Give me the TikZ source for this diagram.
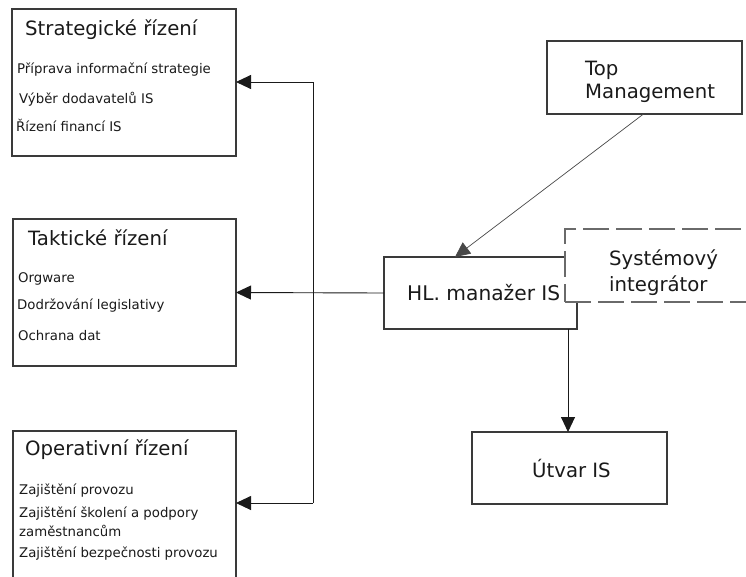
\documentclass[tikz,border=0pt]{standalone}
\usepackage{fontspec}
\setmainfont{DejaVu Sans}
\usetikzlibrary{arrows.meta,calc}

\definecolor{edge}{HTML}{3A3A3A}
\definecolor{ink}{HTML}{1A1A1A}
\definecolor{dashgray}{HTML}{6A6A6A}

\tikzset{
  box/.style={draw=edge, line width=1.1pt, fill=white, rectangle, inner sep=0pt, outer sep=0pt},
  dashbox/.style={box, draw=dashgray, line width=1.2pt, dash pattern=on 26pt off 7pt},
  head/.style={anchor=base west, inner sep=0pt, font=\fontsize{19.7}{22}\selectfont, text=ink},
  item/.style={anchor=base west, inner sep=0pt, font=\fontsize{13.3}{16}\selectfont, text=ink},
  link/.style={draw=ink, line width=0.9pt},
  arrowlink/.style={link, -{Triangle[length=15pt,width=14pt]}},
  thinarrow/.style={draw=ink!80, line width=0.7pt, -{Triangle[length=15pt,width=14pt]}},
}

\begin{document}
\begin{tikzpicture}[x=1pt, y=-1pt]
  \useasboundingbox (0,0) rectangle (746,576);
  \clip (0,0) rectangle (746,576);

  % management levels on the left
  \node[box, minimum width=224pt, minimum height=147pt] (strat) at (124,82.5) {};
  \node[box, minimum width=223pt, minimum height=147pt] (takt) at (124.5,292.5) {};
  \node[box, minimum width=223pt, minimum height=170pt] (oper) at (124.5,516) {};

  \node[head] (strath) at (25,35) {Strategické řízení};
  \node[item] (s1) at (17,73) {Příprava informační strategie};
  \node[item] (s2) at (19,103) {Výběr dodavatelů IS};
  \node[item] (s3) at (16,131) {Řízení financí IS};

  \node[head] (takth) at (28,245) {Taktické řízení};
  \node[item] (t1) at (18,282) {Orgware};
  \node[item] (t2) at (17,309) {Dodržování legislativy};
  \node[item] (t3) at (18,340) {Ochrana dat};

  \node[head] (operh) at (25,455) {Operativní řízení};
  \node[item] (o1) at (19,494) {Zajištění provozu};
  \node[item] (o2) at (19,517) {Zajištění školení a podpory};
  \node[item] (o3) at (19,536) {zaměstnancům};
  \node[item] (o4) at (19,557) {Zajištění bezpečnosti provozu};

  % top management
  \node[box, minimum width=195pt, minimum height=73pt] (top) at (644.5,77.5) {};
  \node[head] (toph1) at (585,75) {Top};
  \node[head] (toph2) at (585,98) {Management};

  % chief IS manager and the system integrator overlapping it
  \node[box, minimum width=193pt, minimum height=72pt] (hl) at (480.5,293) {};
  \node[head, font=\fontsize{20.2}{22}\selectfont] (hlh) at (407,300) {HL. manažer IS};
  \node[dashbox, minimum width=200pt, minimum height=73pt] (integ) at (665,265.5) {};
  \node[head] (integ1) at (609,265) {Systémový};
  \node[head] (integ2) at (609,291) {integrátor};

  % IS department
  \node[box, minimum width=195pt, minimum height=72pt] (utvar) at (569.5,468) {};
  \node[head] (utvarh) at (532,477) {Útvar IS};

  % connectors
  \coordinate (busTop) at (313,82);
  \coordinate (busBot) at (313,503);
  \draw[link] (busTop) -- (busBot);
  \draw[arrowlink] (busTop) -- (busTop -| strat.east);
  \draw[arrowlink] (hl.west) -- (takt.east);
  \draw[arrowlink] (busBot) -- (busBot -| oper.east);
  \draw[thinarrow] ([xshift=-1pt]top.south) -- ([xshift=71pt]hl.north west);
  \coordinate (hlDown) at ([xshift=-9pt]hl.south east);
  \draw[arrowlink] (hlDown) -- (hlDown |- utvar.north);
\end{tikzpicture}
\end{document}
